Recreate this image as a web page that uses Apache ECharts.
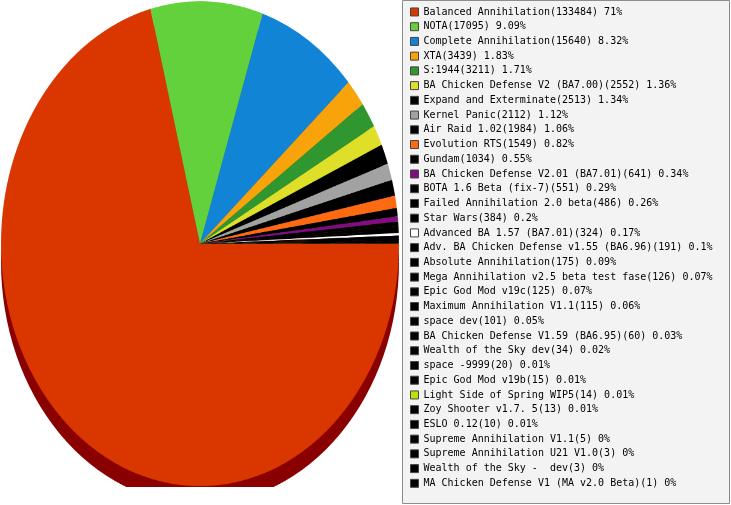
<!DOCTYPE html>
<html>
<head>
<meta charset="utf-8">
<script src="https://cdn.jsdelivr.net/npm/echarts@6/dist/echarts.min.js"></script>
<style>
html,body{margin:0;padding:0;background:#fff;width:731px;height:505px;overflow:hidden;}
#pie{position:absolute;left:0;top:0;width:400px;height:400px;transform:scale(1,1.2186);transform-origin:0 0;}
#leg{position:absolute;left:400px;top:0;width:331px;height:505px;}
</style>
</head>
<body>
<div id="pie"></div>
<div id="leg"></div>
<script>
const categories = [
  'Balanced Annihilation', 'NOTA', 'Complete Annihilation', 'XTA', 'S:1944',
  'BA Chicken Defense V2 (BA7.00)', 'Expand and Exterminate', 'Kernel Panic', 'Air Raid 1.02', 'Evolution RTS',
  'Gundam', 'BA Chicken Defense V2.01 (BA7.01)', 'BOTA 1.6 Beta (fix-7)', 'Failed Annihilation 2.0 beta', 'Star Wars',
  'Advanced BA 1.57 (BA7.01)', 'Adv. BA Chicken Defense v1.55 (BA6.96)', 'Absolute Annihilation', 'Mega Annihilation v2.5 beta test fase', 'Epic God Mod v19c',
  'Maximum Annihilation V1.1', 'space dev', 'BA Chicken Defense V1.59 (BA6.95)', 'Wealth of the Sky dev', 'space -9999',
  'Epic God Mod v19b', 'Light Side of Spring WIP5', 'Zoy Shooter v1.7. 5', 'ESLO 0.12', 'Supreme Annihilation V1.1',
  'Supreme Annihilation U21 V1.0', 'Wealth of the Sky -  dev', 'MA Chicken Defense V1 (MA v2.0 Beta)'
];
const values = [
  133484, 17095, 15640, 3439, 3211,
  2552, 2513, 2112, 1984, 1549,
  1034, 641, 551, 486, 384,
  324, 191, 175, 126, 125,
  115, 101, 60, 34, 20,
  15, 14, 13, 10, 5,
  3, 3, 1
];
const pctLabels = [
  '71%', '9.09%', '8.32%', '1.83%', '1.71%',
  '1.36%', '1.34%', '1.12%', '1.06%', '0.82%',
  '0.55%', '0.34%', '0.29%', '0.26%', '0.2%',
  '0.17%', '0.1%', '0.09%', '0.07%', '0.07%',
  '0.06%', '0.05%', '0.03%', '0.02%', '0.01%',
  '0.01%', '0.01%', '0.01%', '0.01%', '0%',
  '0%', '0%', '0%'
];
const colors = [
  '#da3700', '#62d13b', '#1284d6', '#f9a30b', '#309630',
  '#dfdf2a', '#000000', '#a2a2a2', '#000000', '#fd6a12',
  '#000000', '#820c82', '#000000', '#000000', '#000000',
  '#ffffff', '#000000', '#000000', '#000000', '#000000',
  '#000000', '#000000', '#000000', '#000000', '#000000',
  '#000000', '#c0e000', '#000000', '#000000', '#000000',
  '#000000', '#000000', '#000000'
];

function darken(hex, f) {
  const n = parseInt(hex.slice(1), 16);
  const r = Math.round(((n >> 16) & 255) * f), g = Math.round(((n >> 8) & 255) * f), b = Math.round((n & 255) * f);
  return 'rgb(' + r + ',' + g + ',' + b + ')';
}
const shadowColors = colors.map((c, i) => i === 0 ? '#8a0000' : darken(c, 0.55));

const mainData = categories.map((n, i) => ({ name: n, value: values[i], itemStyle: { color: colors[i] } }));
const shadowData = categories.map((n, i) => ({ name: n, value: values[i], itemStyle: { color: shadowColors[i] } }));

const pieChart = echarts.init(document.getElementById('pie'), null, { devicePixelRatio: 2 });
pieChart.setOption({
  animation: false,
  series: [
    {
      type: 'pie', silent: true, z: 1,
      center: [200, 214.8], radius: 199,
      startAngle: 0, clockwise: true,
      label: { show: false }, labelLine: { show: false },
      data: shadowData
    },
    {
      type: 'pie', silent: true, z: 2,
      center: [200, 200], radius: 199,
      startAngle: 0, clockwise: true,
      label: { show: false }, labelLine: { show: false },
      data: mainData
    }
  ]
});

const legChart = echarts.init(document.getElementById('leg'));
legChart.setOption({
  animation: false,
  graphic: [{
    type: 'rect', z: 0,
    shape: { x: 2.5, y: 0.5, width: 327, height: 503 },
    style: { fill: '#f3f3f3', stroke: '#8c8c8c', lineWidth: 1 }
  }],
  legend: {
    orient: 'vertical', left: 10, top: 4.6, height: 495,
    padding: 0, itemGap: 0, itemWidth: 8, itemHeight: 8,
    selectedMode: false, icon: 'rect',
    itemStyle: { borderColor: '#444', borderWidth: 1 },
    textStyle: { fontFamily: 'DejaVu Sans Mono', fontSize: 10, color: '#000', lineHeight: 14.73 },
    data: categories,
    formatter: function (name) {
      const i = categories.indexOf(name);
      return name + '(' + values[i] + ') ' + pctLabels[i];
    }
  },
  series: [{
    type: 'pie', silent: true, center: [-500, -500], radius: 1,
    label: { show: false }, labelLine: { show: false },
    data: mainData
  }]
});
</script>
</body>
</html>
